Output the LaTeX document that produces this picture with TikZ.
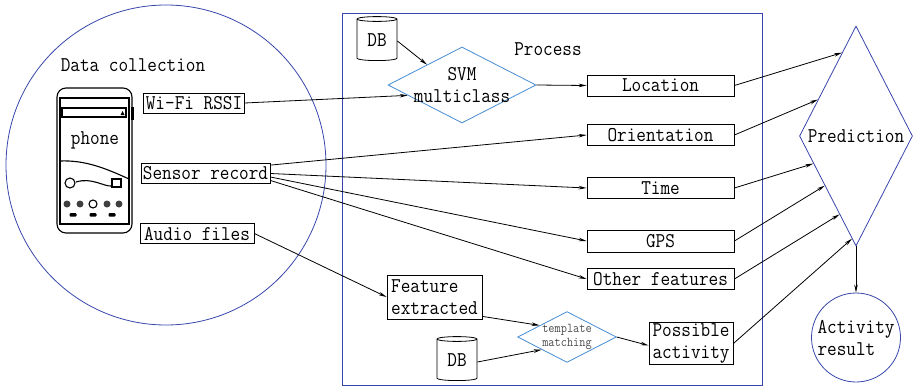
\documentclass[tikz,border=0pt]{standalone}
\usepackage{fontspec}
\setmainfont{Latin Modern Mono}[FakeStretch=0.89]
\usetikzlibrary{positioning}
\usetikzlibrary{shapes}
\usetikzlibrary{arrows.meta}
\usetikzlibrary{calc}

\definecolor{darkblue}{RGB}{55,70,170}
\definecolor{lightblue}{RGB}{70,140,210}

\begin{document}
\begin{tikzpicture}[x=1pt, y=-1pt, line width=0.8pt,
        font=\fontsize{21}{22}\selectfont,
        >={Stealth[length=8pt,width=3.5pt]},
        item/.style={draw, inner xsep=2pt, inner ysep=1pt, minimum height=20pt},
        feat/.style={draw, minimum width=147pt, minimum height=21pt, inner sep=1pt},
        dbase/.style={cylinder, shape border rotate=90, draw, aspect=0.25,
            minimum width=40pt, minimum height=44pt, inner sep=0pt},
        choice/.style={diamond, draw=lightblue, align=center},
        ring/.style={circle, draw=darkblue, inner sep=0pt}]
    \useasboundingbox (0,0) rectangle (914,391);

    % data collection
    \node[ring, minimum size=320pt] (collect) at (166,165) {};
    \node (collecttitle) at (133,65) {Data collection};

    % phone sketch
    \begin{scope}[line width=1.1pt]
        \draw[rounded corners=9pt] (57,88) rectangle (132,233);
        \draw (60,98) rectangle (129,224);
        \draw (62,108) rectangle (126,117);
        \fill (120.5,115) -- (124.5,115) -- (122.5,111) -- cycle;
        \fill (131,107) rectangle (134,120);
        \draw (60,161) .. controls (85,160) and (105,168) .. (129,179);
        \draw (76,182) .. controls (92,177) and (104,187) .. (112,186);
        \draw (70,183) circle (5);
        \draw (112,179) rectangle (121,187);
        \foreach \x in {67,80,107,119}
            \fill[black!75] (\x,204) circle (3.5);
        \draw (93,204) circle (4);
        \foreach \x in {73,93,112}
            \fill[rounded corners=1pt] (\x-3.5,213) rectangle (\x+3.5,216.5);
    \end{scope}
    \node (phonelabel) at (95,140) {phone};

    \node[item] (wifi) at (194,103) {Wi-Fi RSSI};
    \node[item] (sensor) at (205.5,173.5) {Sensor record};
    \node[item, inner xsep=4pt] (audio) at (197,233.5) {Audio files};

    % process block
    \node[draw=darkblue, minimum width=420pt, minimum height=372pt, inner sep=0pt]
        (process) at (552,199.5) {};
    \node (processtitle) at (548,49) {Process};

    \node[dbase] (dbtop) at (377,40) {DB};
    \node[choice, aspect=1.95, inner sep=-5pt, minimum width=148pt, minimum height=76pt]
        (svm) at (462,85) {SVM\\multiclass};

    \node[feat] (location) at (660.5,85.5) {Location};
    \node[feat] (orient) at (660.5,135) {Orientation};
    \node[feat] (time) at (660.5,188) {Time};
    \node[feat, minimum height=22pt] (gps) at (660.5,241) {GPS};
    \node[feat] (other) at (660.5,279) {Other features};

    \node[draw, minimum width=95pt, minimum height=44pt, inner sep=2pt, align=left]
        (extract) at (434.5,297) {Feature\\extracted};
    \node[dbase] (dbbottom) at (457,360) {DB};
    \node[choice, aspect=1.94, inner sep=0pt, minimum width=97pt, minimum height=50pt,
        text=black!70, font=\fontsize{13.5}{14}\selectfont]
        (match) at (567,337) {template\\matching};
    \node[draw, minimum width=84pt, minimum height=39pt, inner sep=1pt, align=left]
        (possible) at (691,343.5) {Possible\\activity};

    % prediction
    \node[diamond, draw=darkblue, aspect=0.51, inner sep=0pt,
        minimum width=113pt, minimum height=220pt] (pred) at (856,136) {Prediction};
    \node[ring, minimum size=89pt, align=left] (result) at (856,337.5) {Activity\\result};

    % connectors
    \draw[->] (wifi.east) -- ($(svm.west)!0.27!(svm.south)$);
    \draw[->] ([yshift=-1pt]dbtop.east) -- ($(svm.west)!0.53!(svm.north)$);
    \draw[->] (svm.east) -- (location.west);

    \draw[->] ([yshift=-2pt]sensor.north east) -- (orient.west);
    \draw[->] (sensor.east) -- (time.west);
    \draw[->] ([yshift=-3.5pt]sensor.east) -- (gps.west);
    \draw[->] ([yshift=-7pt]sensor.east) -- (other.west);

    \draw[->] (audio.east) -- (extract.west);
    \draw[->] ([yshift=3pt]extract.south east) -- ($(match.west)!0.45!(match.north)$);
    \draw[->] ([yshift=-2pt]dbbottom.east) -- ($(match.west)!0.49!(match.south)$);
    \draw[->] (match.east) -- ([yshift=-2pt]possible.west);

    \draw[->] (location.east) -- ($(pred.north)!0.245!(pred.west)$);
    \draw[->] (orient.east) -- ($(pred.north)!0.67!(pred.west)$);
    \draw[->] (time.east) -- ($(pred.west)!0.25!(pred.south)$);
    \draw[->] (gps.east) -- ($(pred.west)!0.45!(pred.south)$);
    \draw[->] (other.east) -- ($(pred.west)!0.71!(pred.south)$);
    \draw[->] (possible.east) -- ($(pred.west)!0.93!(pred.south)$);
    \draw[->] (pred.south) -- (result.north);
\end{tikzpicture}
\end{document}
